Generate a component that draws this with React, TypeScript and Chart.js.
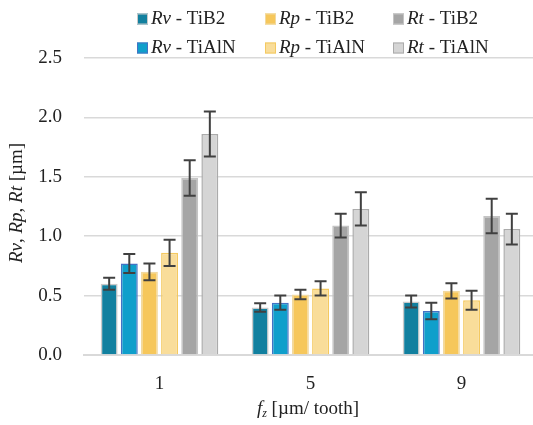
import React, { useEffect, useRef } from "react";
import { Chart, registerables } from "chart.js";

Chart.register(...registerables);

const categories = ["1", "5", "9"];
const rvTiB2 = [0.6, 0.4, 0.45];
const rvTiB2Err = [0.05, 0.035, 0.05];
const rvTiAlN = [0.77, 0.44, 0.37];
const rvTiAlNErr = [0.08, 0.06, 0.07];
const rpTiB2 = [0.7, 0.51, 0.54];
const rpTiB2Err = [0.07, 0.04, 0.065];
const rpTiAlN = [0.86, 0.56, 0.46];
const rpTiAlNErr = [0.11, 0.06, 0.08];
const rtTiB2 = [1.49, 1.09, 1.17];
const rtTiB2Err = [0.15, 0.1, 0.145];
const rtTiAlN = [1.86, 1.23, 1.06];
const rtTiAlNErr = [0.19, 0.14, 0.13];

const FONT = '"Liberation Serif", "DejaVu Serif", serif';
const FS = 19;

type Part = { t: string; i?: boolean; sub?: boolean };

function drawParts(ctx: CanvasRenderingContext2D, parts: Part[], x: number, y: number, align: "left" | "center") {
  const fontOf = (p: Part) => `${p.i ? "italic " : ""}${p.sub ? Math.round(FS * 0.65) : FS}px ${FONT}`;
  let total = 0;
  for (const p of parts) {
    ctx.font = fontOf(p);
    total += ctx.measureText(p.t).width;
  }
  let cx = align === "center" ? x - total / 2 : x;
  ctx.textAlign = "left";
  ctx.textBaseline = "middle";
  for (const p of parts) {
    ctx.font = fontOf(p);
    ctx.fillText(p.t, cx, p.sub ? y + 5 : y);
    cx += ctx.measureText(p.t).width;
  }
}

const legendItems = [
  { name: "Rv", coat: "TiB2", fill: "#12809F", border: "#c9c9c9", col: 0, row: 0 },
  { name: "Rp", coat: "TiB2", fill: "#F6C75B", border: "#f1d9a0", col: 1, row: 0 },
  { name: "Rt", coat: "TiB2", fill: "#A5A5A5", border: "#c4c4c4", col: 2, row: 0 },
  { name: "Rv", coat: "TiAlN", fill: "#0F9FCB", border: "#4472C4", col: 0, row: 1 },
  { name: "Rp", coat: "TiAlN", fill: "#F9DD9A", border: "#F4C960", col: 1, row: 1 },
  { name: "Rt", coat: "TiAlN", fill: "#D5D5D5", border: "#ABABAB", col: 2, row: 1 },
];

export default function App() {
  const ref = useRef<HTMLCanvasElement | null>(null);
  useEffect(() => {
    if (!ref.current) return;
    const errs = [rvTiB2Err, rvTiAlNErr, rpTiB2Err, rpTiAlNErr, rtTiB2Err, rtTiAlNErr];
    const series = [
      { label: "Rv - TiB2", data: rvTiB2, bg: "#12809F", bd: "#c9c9c9" },
      { label: "Rv - TiAlN", data: rvTiAlN, bg: "#0F9FCB", bd: "#4472C4" },
      { label: "Rp - TiB2", data: rpTiB2, bg: "#F6C75B", bd: "#f1d9a0" },
      { label: "Rp - TiAlN", data: rpTiAlN, bg: "#F9DD9A", bd: "#F4C960" },
      { label: "Rt - TiB2", data: rtTiB2, bg: "#A5A5A5", bd: "#c4c4c4" },
      { label: "Rt - TiAlN", data: rtTiAlN, bg: "#D5D5D5", bd: "#ABABAB" },
    ];
    const errorBars = {
      id: "errorBars",
      afterDatasetsDraw(chart: any) {
        const ctx = chart.ctx;
        const ys = chart.scales.y;
        ctx.save();
        ctx.strokeStyle = "#404040";
        ctx.lineWidth = 2;
        chart.data.datasets.forEach((ds: any, i: number) => {
          const meta = chart.getDatasetMeta(i);
          meta.data.forEach((el: any, j: number) => {
            const v = ds.data[j];
            const e = errs[i][j];
            const t = ys.getPixelForValue(v + e);
            const b = ys.getPixelForValue(v - e);
            const x = el.x;
            ctx.beginPath();
            ctx.moveTo(x, t);
            ctx.lineTo(x, b);
            ctx.moveTo(x - 6, t);
            ctx.lineTo(x + 6, t);
            ctx.moveTo(x - 6, b);
            ctx.lineTo(x + 6, b);
            ctx.stroke();
          });
        });
        ctx.restore();
      },
    };
    const textPlugin = {
      id: "texts",
      afterDraw(chart: any) {
        const ctx = chart.ctx;
        ctx.save();
        ctx.fillStyle = "#222";
        // legend
        const colX = [137, 265, 393];
        const rowY = [19, 48];
        legendItems.forEach((it) => {
          const x = colX[it.col];
          const y = rowY[it.row];
          ctx.fillStyle = it.fill;
          ctx.fillRect(x, y - 5.5, 11, 11);
          ctx.strokeStyle = it.border;
          ctx.lineWidth = 1;
          ctx.strokeRect(x + 0.5, y - 5, 10, 10);
          ctx.fillStyle = "#222";
          drawParts(ctx, [{ t: it.name, i: true }, { t: " - " + it.coat }], x + 14, y, "left");
        });
        // y title
        ctx.save();
        ctx.translate(17, 203);
        ctx.rotate(-Math.PI / 2);
        drawParts(
          ctx,
          [
            { t: "Rv", i: true },
            { t: ", " },
            { t: "Rp", i: true },
            { t: ", " },
            { t: "Rt", i: true },
            { t: " [µm]" },
          ],
          0,
          0,
          "center"
        );
        ctx.restore();
        // x title
        drawParts(ctx, [{ t: "f", i: true }, { t: "z", i: true, sub: true }, { t: " [µm/ tooth]" }], 308, 409, "center");
        ctx.restore();
      },
    };
    const chart = new Chart(ref.current, {
      type: "bar",
      data: {
        labels: categories,
        datasets: series.map((s) => ({
          label: s.label,
          data: s.data,
          backgroundColor: s.bg,
          borderColor: s.bd,
          borderWidth: 1.5,
          barPercentage: 0.84,
          categoryPercentage: 0.8,
        })),
      },
      options: {
        animation: false,
        responsive: false,
        layout: { padding: { top: 58, right: 3, left: 0, bottom: 0 } },
        plugins: { legend: { display: false }, tooltip: { enabled: false } },
        scales: {
          x: {
            grid: { display: false, drawTicks: false },
            border: { display: true, color: "#D9D9D9", width: 2 },
            ticks: { color: "#222", font: { family: FONT, size: FS }, padding: 18 },
            afterFit: (s: any) => {
              s.height = 70;
            },
          },
          y: {
            min: 0,
            max: 2.5,
            grid: { color: "#D9D9D9", lineWidth: 1.5, drawTicks: false },
            border: { display: false },
            ticks: {
              stepSize: 0.5,
              color: "#222",
              padding: 22,
              font: { family: FONT, size: FS },
              callback: (v: any) => Number(v).toFixed(1),
            },
            afterFit: (s: any) => {
              s.width = 84;
            },
          },
        },
      },
      plugins: [errorBars, textPlugin],
    });
    return () => chart.destroy();
  }, []);
  return (
    <div style={{ position: "fixed", left: 0, top: 0, width: 533, height: 425, overflow: "hidden", background: "#fff" }}>
      <canvas ref={ref} width={540} height={425} style={{ width: 540, height: 425, display: "block" }} />
    </div>
  );
}
